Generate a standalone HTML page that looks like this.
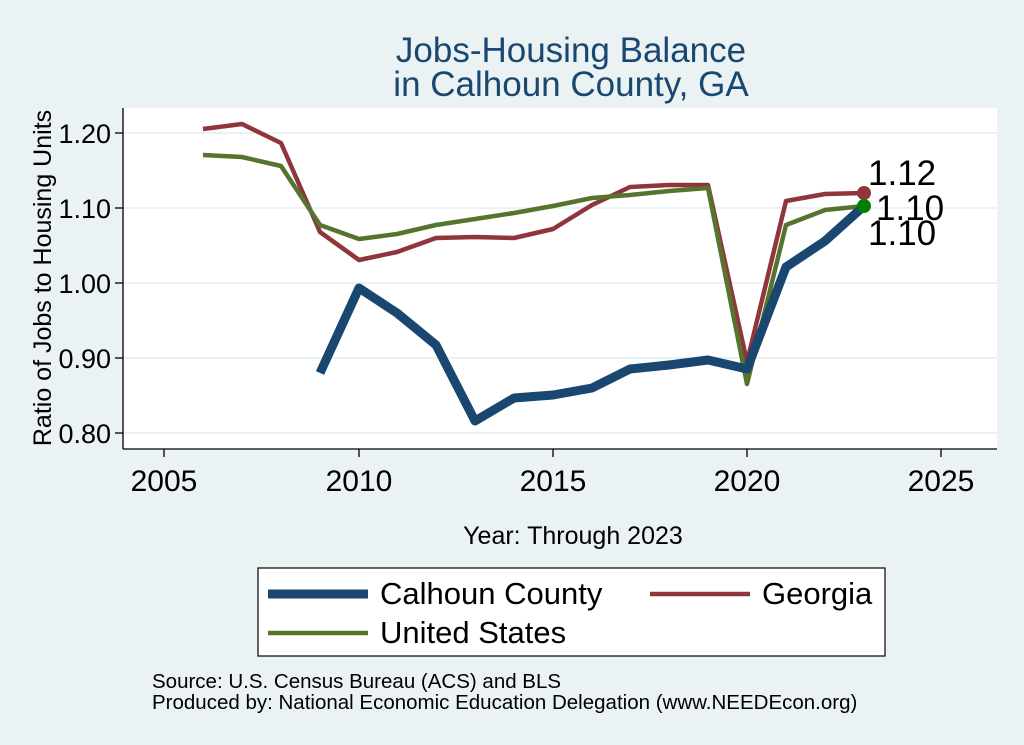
<!DOCTYPE html>
<html><head><meta charset="utf-8"><style>
html,body{margin:0;padding:0;background:#eaf2f3;}
svg{display:block;font-family:"Liberation Sans",Arial,sans-serif;}
</style></head><body>
<svg width="1024" height="745" viewBox="0 0 1024 745" xmlns="http://www.w3.org/2000/svg">
<rect width="1024" height="745" fill="#eaf2f3"/>
<text x="571" y="62" font-size="35" fill="#1a476f" text-anchor="middle">Jobs-Housing Balance</text>
<text x="571" y="96" font-size="35" fill="#1a476f" text-anchor="middle">in Calhoun County, GA</text>
<rect x="123" y="108" width="874" height="341" fill="#fff"/>
<g stroke="#eaf2f3" stroke-width="2">
<line x1="123" x2="997" y1="133" y2="133"/><line x1="123" x2="997" y1="208" y2="208"/>
<line x1="123" x2="997" y1="283" y2="283"/><line x1="123" x2="997" y1="358" y2="358"/>
<line x1="123" x2="997" y1="433" y2="433"/>
</g>
<g stroke="#000" stroke-width="1.3">
<line x1="123" y1="108" x2="123" y2="449"/><line x1="123" y1="449" x2="997" y2="449"/>
<line x1="115" x2="123" y1="133" y2="133"/><line x1="115" x2="123" y1="208" y2="208"/>
<line x1="115" x2="123" y1="283" y2="283"/><line x1="115" x2="123" y1="358" y2="358"/>
<line x1="115" x2="123" y1="433" y2="433"/>
<line x1="164" x2="164" y1="449" y2="457"/><line x1="359" x2="359" y1="449" y2="457"/>
<line x1="553" x2="553" y1="449" y2="457"/><line x1="747" x2="747" y1="449" y2="457"/>
<line x1="941" x2="941" y1="449" y2="457"/>
</g>
<g font-size="27" fill="#000" text-anchor="end">
<text x="111" y="143">1.20</text><text x="111" y="218">1.10</text><text x="111" y="293">1.00</text>
<text x="111" y="368">0.90</text><text x="111" y="443">0.80</text>
</g>
<g font-size="30" fill="#000" text-anchor="middle">
<text x="164" y="491">2005</text><text x="359" y="491">2010</text><text x="553" y="491">2015</text>
<text x="747" y="491">2020</text><text x="941" y="491">2025</text>
</g>
<text x="573" y="544" font-size="25" text-anchor="middle">Year: Through 2023</text>
<text transform="translate(51,278) rotate(-90)" font-size="25" text-anchor="middle">Ratio of Jobs to Housing Units</text>
<polyline fill="none" stroke="#90353b" stroke-width="4.5" stroke-linejoin="round" points="203,129 242,124 281,143 320,232 359,260 397,252 436,238 475,237 514,238 553,229 592,205 630,187 669,185 708,185 747,362 786,201 825,194 864,193"/>
<polyline fill="none" stroke="#55752f" stroke-width="4.5" stroke-linejoin="round" points="203,155 242,157 281,166 320,225 359,239 397,234 436,225 475,219 514,213 553,206 592,198 630,195 669,191 708,188 747,384 786,225 825,210 864,206"/>
<polyline fill="none" stroke="#1a476f" stroke-width="9" stroke-linejoin="round" points="320,373 359,288 397,313 436,345 475,421 514,398 553,395 592,388 630,369 669,365 708,360 747,369 786,267 825,241 864,206"/>
<circle cx="864" cy="193" r="7" fill="#90353b"/>
<circle cx="864" cy="206" r="7" fill="#008000"/>
<text x="868" y="185" font-size="35">1.12</text>
<text x="876" y="220" font-size="35">1.10</text>
<text x="868" y="245" font-size="35">1.10</text>
<rect x="258" y="568" width="627" height="88" fill="#fff" stroke="#000" stroke-width="1.2"/>
<line x1="268" x2="368" y1="594" y2="594" stroke="#1a476f" stroke-width="9"/>
<text x="380" y="604" font-size="31">Calhoun County</text>
<line x1="650" x2="750" y1="594" y2="594" stroke="#90353b" stroke-width="4.5"/>
<text x="762" y="604" font-size="31">Georgia</text>
<line x1="268" x2="368" y1="633" y2="633" stroke="#55752f" stroke-width="4.5"/>
<text x="380" y="643" font-size="31">United States</text>
<text x="152" y="688" font-size="20.5">Source: U.S. Census Bureau (ACS) and BLS</text>
<text x="152" y="709" font-size="20.5">Produced by: National Economic Education Delegation (www.NEEDEcon.org)</text>
</svg>
</body></html>
